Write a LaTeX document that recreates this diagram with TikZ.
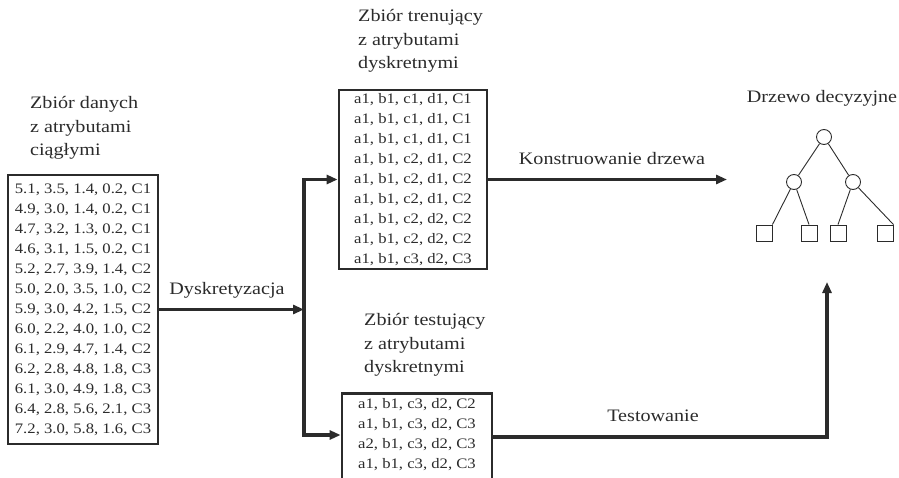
\documentclass[tikz,border=0pt]{standalone}
\usepackage{fontspec}
\setmainfont{Liberation Serif}[FakeStretch=1.15]
\usetikzlibrary{arrows.meta}
\definecolor{ink}{HTML}{2B2B2B}
\begin{document}
\begin{tikzpicture}[x=1pt,y=-1pt,
  databox/.style={draw=ink, line width=2.8pt, align=center, text=ink, inner sep=0pt,
    font=\fontsize{14.5}{20}\selectfont},
  lbl/.style={text=ink, inner sep=0pt, align=left, font=\fontsize{17.5}{23.5}\selectfont},
  arr/.style={draw=ink, line width=3.2pt, -{Triangle[length=11pt,width=9pt]}},
  conn/.style={draw=ink, line width=3.2pt},
  inode/.style={draw=ink, circle, line width=0.9pt, minimum size=15pt, inner sep=0pt},
  leaf/.style={draw=ink, rectangle, line width=0.9pt, minimum size=16pt, inner sep=0pt},
  edge/.style={draw=ink, line width=0.9pt}]
\useasboundingbox (0,0) rectangle (899,478);

% labels
\node[lbl, anchor=west] (lblleft) at (30,128) {Zbiór danych\\z atrybutami\\ciągłymi};
\node[lbl, anchor=west] (lbltrain) at (358,41) {Zbiór trenujący\\z atrybutami\\dyskretnymi};
\node[lbl, anchor=west] (lbltest) at (364,345) {Zbiór testujący\\z atrybutami\\dyskretnymi};
\node[lbl] (lbltree) at (822,98) {Drzewo decyzyjne};
\node[lbl] (lbldysk) at (227,290) {Dyskretyzacja};
\node[lbl] (lblkon) at (612,159) {Konstruowanie drzewa};
\node[lbl] (lbltestw) at (653,416) {Testowanie};

% data boxes
\node[databox, minimum width=150pt, minimum height=269pt] (left) at (83,309.5)
 {5.1, 3.5, 1.4, 0.2, C1\\4.9, 3.0, 1.4, 0.2, C1\\4.7, 3.2, 1.3, 0.2, C1\\4.6, 3.1, 1.5, 0.2, C1\\
  5.2, 2.7, 3.9, 1.4, C2\\5.0, 2.0, 3.5, 1.0, C2\\5.9, 3.0, 4.2, 1.5, C2\\6.0, 2.2, 4.0, 1.0, C2\\
  6.1, 2.9, 4.7, 1.4, C2\\6.2, 2.8, 4.8, 1.8, C3\\6.1, 3.0, 4.9, 1.8, C3\\6.4, 2.8, 5.6, 2.1, C3\\
  7.2, 3.0, 5.8, 1.6, C3};
\node[databox, minimum width=148pt, minimum height=179pt] (train) at (413,179.5)
 {a1, b1, c1, d1, C1\\a1, b1, c1, d1, C1\\a1, b1, c1, d1, C1\\a1, b1, c2, d1, C2\\
  a1, b1, c2, d1, C2\\a1, b1, c2, d1, C2\\a1, b1, c2, d2, C2\\a1, b1, c2, d2, C2\\
  a1, b1, c3, d2, C3};
\node[databox, minimum width=150pt, anchor=north, inner ysep=5pt] (test) at (417,392)
 {a1, b1, c3, d2, C2\\a1, b1, c3, d2, C3\\a2, b1, c3, d2, C3\\a1, b1, c3, d2, C3\\~\\~};

% tree
\node[inode] (root) at (824,137) {};
\node[inode] (ml) at (794,182) {};
\node[inode] (mr) at (853,182) {};
\node[leaf] (l1) at (764,233) {};
\node[leaf] (l2) at (809,233) {};
\node[leaf] (l3) at (838,233) {};
\node[leaf] (l4) at (885,233) {};
\draw[edge] (root) -- (ml);
\draw[edge] (root) -- (mr);
\draw[edge] (ml) -- (l1.north east);
\draw[edge] (ml) -- (l2.north);
\draw[edge] (mr) -- (l3.north);
\draw[edge] (mr) -- (l4.north east);

% connectors
\coordinate (split) at (304,309.5);
\coordinate (testin) at (test.west |- 0,435);
\coordinate (testout) at (test.east |- 0,437);
\coordinate (treein) at (727,179.5);
\coordinate (treeup) at (827,282);
\draw[arr] (left) -- (split);
\draw[conn] (split) -- (304,180);
\draw[arr] (split) |- (train);
\draw[arr] (split) |- (testin);
\draw[arr] (train) -- (treein);
\draw[arr] (testout) -| (treeup);
\end{tikzpicture}
\end{document}
